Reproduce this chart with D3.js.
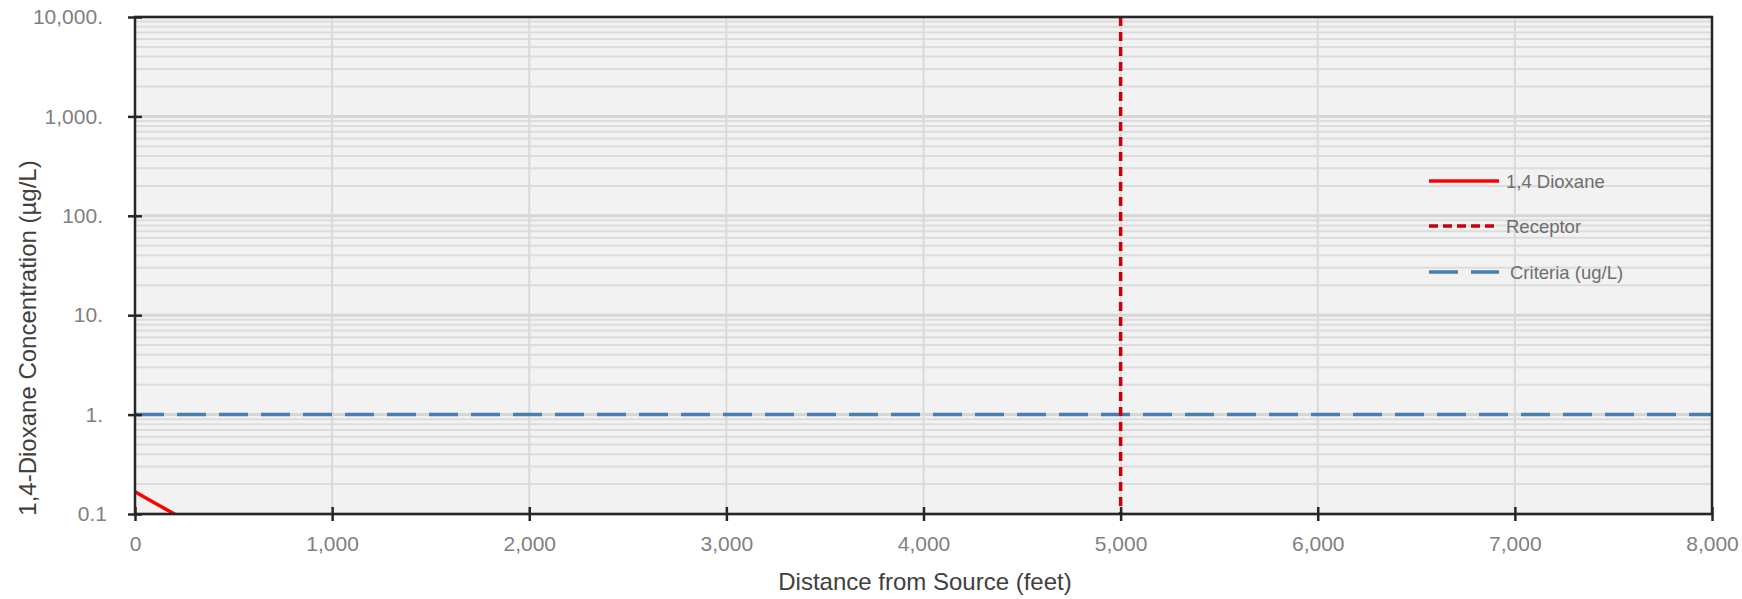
<!DOCTYPE html>
<html>
<head>
<meta charset="utf-8">
<script src="https://cdn.jsdelivr.net/npm/d3@7"></script>
<style>
  html, body { margin: 0; padding: 0; background: #fff; }
  svg { display: block; }
  text { font-family: "Liberation Sans", Arial, sans-serif; }
</style>
</head>
<body>
<svg id="chart" width="1742" height="599"></svg>
<script>
// ---- data ----
const xTicks = [0, 1000, 2000, 3000, 4000, 5000, 6000, 7000, 8000];
const yTicks = [0.1, 1, 10, 100, 1000, 10000];
const yTickLabels = ["0.1", "1.", "10.", "100.", "1,000.", "10,000."];
const dioxaneX = [0, 100, 200, 300];
const dioxaneY = [0.167, 0.129, 0.1, 0.077];
const receptorX = [5000, 5000];
const receptorY = [0.1, 10000];
const criteriaX = [0, 8000];
const criteriaY = [1, 1];
const legendLabels = ["1,4 Dioxane", "Receptor", "Criteria (ug/L)"];
const xTitle = "Distance from Source (feet)";
const yTitle = "1,4-Dioxane Concentration (\u00b5g/L)";

// ---- layout ----
const svg = d3.select("#chart");
const L = 135, R = 1712, T = 17, B = 514;
const x = d3.scaleLinear().domain([0, 8000]).range([L, R]);
const y = d3.scaleLog().domain([0.1, 10000]).range([B, T]);

// background
svg.append("rect").attr("x", L).attr("y", T).attr("width", R - L).attr("height", B - T).attr("fill", "#f2f2f2");

// minor horizontal grid
const minor = [];
for (let d = 0.1; d < 10000; d *= 10) {
  for (let k = 2; k <= 9; k++) minor.push(+(d * k).toPrecision(3));
}
svg.append("g").selectAll("line").data(minor).join("line")
  .attr("x1", L).attr("x2", R)
  .attr("y1", d => y(d)).attr("y2", d => y(d))
  .attr("stroke", "#dcdcdc").attr("stroke-width", 2);
// major horizontal grid
svg.append("g").selectAll("line").data(yTicks).join("line")
  .attr("x1", L).attr("x2", R)
  .attr("y1", d => y(d)).attr("y2", d => y(d))
  .attr("stroke", "#d6d6d6").attr("stroke-width", 3);
// vertical grid
svg.append("g").selectAll("line").data(xTicks).join("line")
  .attr("x1", d => x(d)).attr("x2", d => x(d))
  .attr("y1", T).attr("y2", B)
  .attr("stroke", "#d9d9d9").attr("stroke-width", 2);

// clip
svg.append("clipPath").attr("id", "clip").append("rect")
  .attr("x", L).attr("y", T).attr("width", R - L).attr("height", B - T);
const plot = svg.append("g").attr("clip-path", "url(#clip)");
const line = d3.line().x(d => x(d[0])).y(d => y(d[1]));

plot.append("path").datum(criteriaX.map((v, i) => [v, criteriaY[i]]))
  .attr("d", line).attr("fill", "none").attr("stroke", "#4a7eb0")
  .attr("stroke-width", 3.5).attr("stroke-dasharray", "29,13");
plot.append("path").datum(receptorY.slice().reverse().map((v, i) => [receptorX[i], v]))
  .attr("d", line).attr("fill", "none").attr("stroke", "#c8000a")
  .attr("stroke-width", 3.5).attr("stroke-dasharray", "9,6");
plot.append("path").datum(dioxaneX.map((v, i) => [v, dioxaneY[i]]))
  .attr("d", line).attr("fill", "none").attr("stroke", "#ff0000")
  .attr("stroke-width", 3.5);

// frame
svg.append("rect").attr("x", L).attr("y", T).attr("width", R - L).attr("height", B - T)
  .attr("fill", "none").attr("stroke", "#262626").attr("stroke-width", 2.5);

// y axis
const yAxis = d3.axisLeft(y).tickValues(yTicks).tickFormat((d, i) => yTickLabels[i])
  .tickSizeInner(7).tickSizeOuter(0).tickPadding(25);
const gy = svg.append("g").attr("transform", `translate(${L},0)`).call(yAxis);
gy.select(".domain").remove();
gy.selectAll(".tick line").attr("x1", 7).attr("x2", -7).attr("stroke", "#262626").attr("stroke-width", 2.5);
gy.selectAll(".tick text").attr("font-size", 21).attr("fill", "#808080")
  .attr("font-family", "Liberation Sans, Arial, sans-serif")
  .attr("dx", d => d === 0.1 ? 4 : 0);

// x axis
const xAxis = d3.axisBottom(x).tickValues(xTicks).tickFormat(d3.format(","))
  .tickSizeInner(7).tickSizeOuter(0).tickPadding(15);
const gx = svg.append("g").attr("transform", `translate(0,${B})`).call(xAxis);
gx.select(".domain").remove();
gx.selectAll(".tick line").attr("y1", -7).attr("y2", 7).attr("stroke", "#262626").attr("stroke-width", 2.5);
gx.selectAll(".tick text").attr("font-size", 21).attr("fill", "#808080")
  .attr("font-family", "Liberation Sans, Arial, sans-serif");

// titles
svg.append("text").attr("x", 925).attr("y", 590).attr("text-anchor", "middle")
  .attr("font-size", 24).attr("fill", "#404040").text(xTitle);
svg.append("text").attr("transform", "translate(36,338) rotate(-90)").attr("text-anchor", "middle")
  .attr("font-size", 24).attr("fill", "#404040").text(yTitle);

// legend
const legY = [181, 226, 272];
const legStyle = [
  { c: "#ff0000", dash: null },
  { c: "#c8000a", dash: "9,5" },
  { c: "#4a7eb0", dash: "29,13" }
];
const leg = svg.append("g");
legendLabels.forEach((lab, i) => {
  leg.append("line").attr("x1", 1429).attr("x2", 1499).attr("y1", legY[i]).attr("y2", legY[i])
    .attr("stroke", legStyle[i].c).attr("stroke-width", 3.5)
    .attr("stroke-dasharray", legStyle[i].dash);
  leg.append("text").attr("x", i === 2 ? 1510 : 1506).attr("y", legY[i])
    .attr("dominant-baseline", "central").attr("font-size", 18.5).attr("fill", "#6e6e6e").text(lab);
});
</script>
</body>
</html>
